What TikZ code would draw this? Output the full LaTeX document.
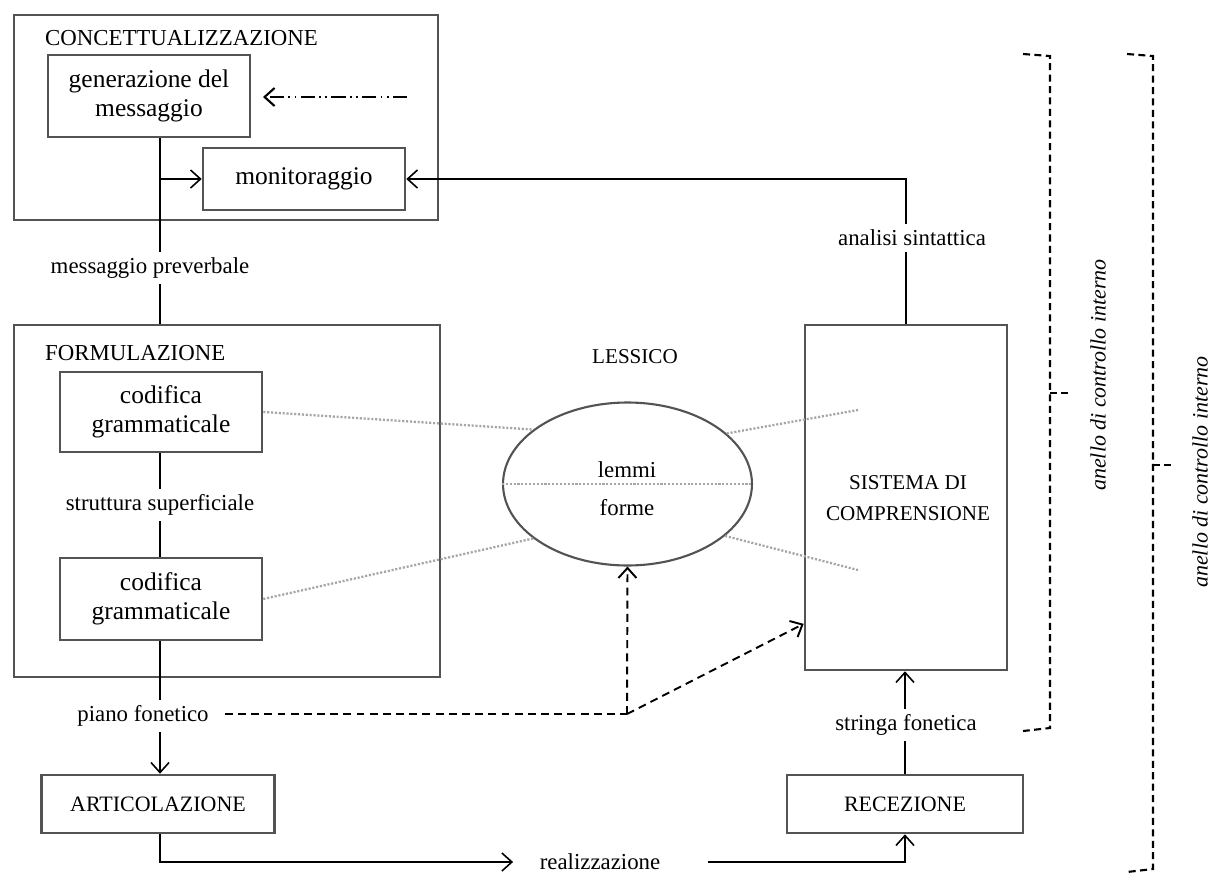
\documentclass[tikz,border=0pt]{standalone}
\usepackage{fontspec}
\setmainfont{Liberation Serif}
\usetikzlibrary{arrows.meta,shapes.geometric}

\tikzstyle{frame}=[rectangle, draw=gray!65!black, line width=1.5pt, inner sep=0pt]
\tikzstyle{inbox}=[frame, align=center, font=\fontsize{14.5}{16.5}\selectfont]
\tikzstyle{unit}=[frame, font=\fontsize{12.5}{14}\selectfont]
\tikzstyle{caps}=[inner sep=1pt, font=\fontsize{13}{15}\selectfont]
\tikzstyle{lbl}=[inner sep=3pt, font=\fontsize{13}{15}\selectfont]
\tikzstyle{link}=[draw, line width=.9pt, black]
\tikzstyle{flow}=[link, ->]
\tikzstyle{lexlink}=[draw, line width=1.3pt, gray!70, dash pattern=on 1.2pt off 1pt]
\tikzstyle{phon}=[draw, line width=1.1pt, dash pattern=on 4.5pt off 3pt, ->]
\tikzstyle{loop}=[draw, line width=1.2pt, dash pattern=on 4pt off 2.5pt]
\tikzstyle{loopname}=[rotate=90, font=\itshape\fontsize{12.5}{14}\selectfont]

\begin{document}
\begin{tikzpicture}[x=0.02cm, y=-0.02cm, >={Straight Barb[length=2mm,width=3.6mm]}]
	\useasboundingbox (0,0) rectangle (1211,876);

	% concettualizzazione
	\node[frame, minimum width=8.48cm, minimum height=4.1cm] (concett) at (226,117.5) {};
	\node[caps, anchor=west] (conctitle) at (43,38) {CONCETTUALIZZAZIONE};
	\node[inbox, minimum width=4.04cm, minimum height=1.64cm] (genmsg) at (149,96) {generazione del\\messaggio};
	\node[inbox, minimum width=4.04cm, minimum height=1.24cm] (monit) at (304,179) {monitoraggio};
	\coordinate (spine) at (160,0);
	\coordinate (ctrlin) at (407,97);
	\coordinate (ctrlout) at (263,97);

	\draw[link, ->, line width=1.2pt, dash pattern=on 8pt off 2.5pt on 1pt off 2.5pt on 1pt off 2.5pt] (ctrlin) -- (ctrlout);
	\draw[link] (genmsg.south -| spine) -- (spine |- monit);
	\draw[flow] (spine |- monit) -- (monit.west);

	\node[lbl] (msgprev) at (150,268) {messaggio preverbale};
	\draw[link] (spine |- monit) -- (msgprev.north -| spine);

	% formulazione
	\node[frame, minimum width=8.52cm, minimum height=7.04cm] (formul) at (227,501) {};
	\node[caps, anchor=west] (formtitle) at (43,353) {FORMULAZIONE};
	\node[inbox, minimum width=4.04cm, minimum height=1.6cm] (codgram1) at (161,412) {codifica\\grammaticale};
	\node[lbl] (strsup) at (160,505) {struttura superficiale};
	\node[inbox, minimum width=4.04cm, minimum height=1.64cm] (codgram2) at (161,599) {codifica\\grammaticale};
	\node[lbl] (pianofon) at (143,716) {piano fonetico};

	\draw[link] (msgprev.south -| spine) -- (formul.north -| spine);
	\draw[link] (codgram1.south -| spine) -- (strsup.north -| spine);
	\draw[link] (strsup.south -| spine) -- (codgram2.north -| spine);
	\draw[link] (codgram2.south -| spine) -- (pianofon.north -| spine);

	% articolazione / recezione
	\node[unit, minimum width=4.66cm, minimum height=1.16cm] (artic) at (158,804) {ARTICOLAZIONE};
	\node[unit, minimum width=4.72cm, minimum height=1.16cm] (recez) at (905,804) {RECEZIONE};
	\node[lbl] (realizz) at (600,862) {realizzazione};
	\node[lbl] (strfon) at (906,725) {stringa fonetica};

	\draw[flow] (pianofon.south -| spine) -- (artic.north -| spine);
	\draw[flow, shorten >=12pt] (artic.south -| spine) |- (realizz.west);
	\draw[flow, shorten <=24pt] (realizz.east) -| (recez.south);
	\draw[link] (recez.north) -- (strfon.south -| recez.north);

	% sistema di comprensione
	\node[frame, minimum width=4.04cm, minimum height=6.9cm] (sistema) at (906,497.5) {};
	\node[caps, align=center, font=\fontsize{12}{18}\selectfont] (sistxt) at (908,498) {SISTEMA DI\\COMPRENSIONE};
	\node[lbl] (anasint) at (912,238) {analisi sintattica};

	\draw[flow] (strfon.north -| recez.north) -- (sistema.south -| recez.north);
	\draw[link] (sistema.north) -- (anasint.south -| sistema.north);
	\draw[flow] (anasint.north -| sistema.north) |- (monit.east);

	% lessico
	\node[caps, font=\fontsize{12}{14}\selectfont] (lessico) at (635,357) {LESSICO};
	\node[ellipse, draw=gray!65!black, line width=1.2pt, minimum width=4.98cm, minimum height=3.26cm, inner sep=0pt] (lex) at (627.5,484) {};
	\node[lbl] (lemmi) at (627,470) {lemmi};
	\node[lbl] (forme) at (627,508) {forme};
	\coordinate (sysup) at (858,410);
	\coordinate (syslow) at (858,570);

	\draw[lexlink] (lex.west) -- (lex.east);
	\draw[lexlink] (codgram1.east) -- (lex.150);
	\draw[lexlink] (codgram2.east) -- (lex.210);
	\draw[lexlink] (lex.27) -- (sysup);
	\draw[lexlink] (lex.332) -- (syslow);

	% fonetica verso lessico e comprensione
	\coordinate (phonfork) at (627,714);
	\draw[phon, -, shorten <=6pt] (pianofon.east |- phonfork) -- (phonfork);
	\draw[phon] (phonfork) -- (lex.south);
	\draw[phon] (phonfork) -- (sistema.231);

	% anelli di controllo
	\coordinate (innertop) at (1050,56);
	\coordinate (innerbot) at (1050,728);
	\coordinate (outertop) at (1153,56);
	\coordinate (outerbot) at (1153,869);
	\draw[loop] (1023,54) -- (innertop) -- (innerbot) -- (1023,731);
	\draw[loop] (1050,393) -- (1071,393);
	\draw[loop] (1127,54) -- (outertop) -- (outerbot) -- (1127,872);
	\draw[loop] (1153,465) -- (1175,465);
	\node[loopname] (innerloop) at (1098,375) {anello di controllo interno};
	\node[loopname] (outerloop) at (1200,472) {anello di controllo interno};
\end{tikzpicture}
\end{document}
